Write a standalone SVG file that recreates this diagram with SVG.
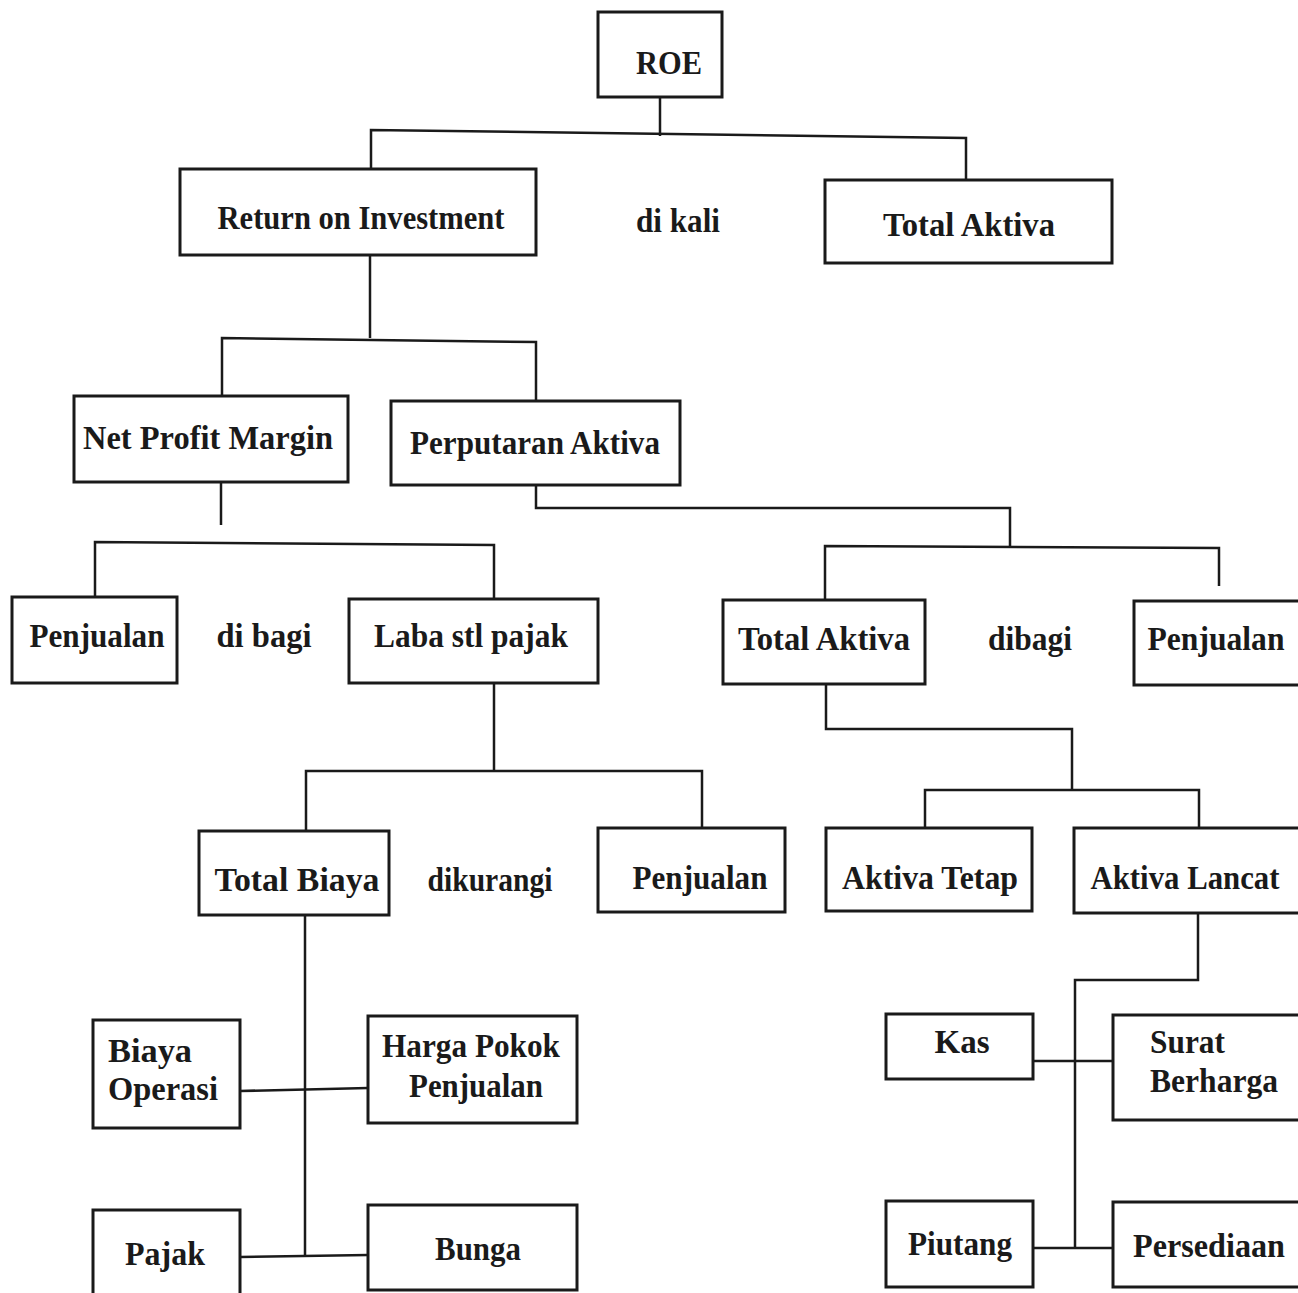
<svg xmlns="http://www.w3.org/2000/svg" width="1298" height="1293" viewBox="0 0 1298 1293">
<style>
.box{fill:#fff;stroke:#1a1a1a;stroke-width:3}
.ln{fill:none;stroke:#1a1a1a;stroke-width:2.5}
text{font-family:"Liberation Serif","Times New Roman",serif;font-size:33px;font-weight:bold;fill:#1a1a1a;text-anchor:middle}
.l{text-anchor:start}
</style>
<rect width="1298" height="1293" fill="#fff"/>
<g id="connectors">
<polyline class="ln" points="660,97 660,136"/>
<polyline class="ln" points="371,168 371,130 966,138 966,180"/>
<polyline class="ln" points="370,256 370,338"/>
<polyline class="ln" points="222,396 222,338 536,342 536,401"/>
<polyline class="ln" points="221,482 221,525"/>
<polyline class="ln" points="95,597 95,542 494,545 494,599"/>
<polyline class="ln" points="536,485 536,508 1010,508 1010,548"/>
<polyline class="ln" points="825,600 825,546 1219,548 1219,586"/>
<polyline class="ln" points="494,684 494,771"/>
<polyline class="ln" points="306,831 306,771 702,771 702,828"/>
<polyline class="ln" points="826,684 826,729 1072,729 1072,790"/>
<polyline class="ln" points="925,828 925,790 1199,790 1199,828"/>
<polyline class="ln" points="305,915 305,1257"/>
<polyline class="ln" points="240,1091 368,1088"/>
<polyline class="ln" points="240,1257 368,1255"/>
<polyline class="ln" points="1198,913 1198,980 1075,980 1075,1248"/>
<polyline class="ln" points="1033,1061 1113,1061"/>
<polyline class="ln" points="1033,1248 1113,1248"/>
</g>
<g id="n-roe"><rect class="box" x="598" y="12" width="124" height="85"/><text x="669" y="74" textLength="66" lengthAdjust="spacingAndGlyphs">ROE</text></g>
<g id="n-roi"><rect class="box" x="180" y="169" width="356" height="86"/><text x="361" y="229" textLength="287" lengthAdjust="spacingAndGlyphs">Return on Investment</text></g>
<g id="t-dikali"><text x="678" y="232" textLength="84" lengthAdjust="spacingAndGlyphs">di kali</text></g>
<g id="n-totalaktiva1"><rect class="box" x="825" y="180" width="287" height="83"/><text x="969" y="236" textLength="172" lengthAdjust="spacingAndGlyphs">Total Aktiva</text></g>
<g id="n-npm"><rect class="box" x="74" y="396" width="274" height="86"/><text x="208" y="449" textLength="250" lengthAdjust="spacingAndGlyphs">Net Profit Margin</text></g>
<g id="n-perputaran"><rect class="box" x="391" y="401" width="289" height="84"/><text x="535" y="454" textLength="250" lengthAdjust="spacingAndGlyphs">Perputaran Aktiva</text></g>
<g id="n-penjualan1"><rect class="box" x="12" y="597" width="165" height="86"/><text x="97" y="647" textLength="135" lengthAdjust="spacingAndGlyphs">Penjualan</text></g>
<g id="t-dibagi1"><text x="264" y="647" textLength="95" lengthAdjust="spacingAndGlyphs">di bagi</text></g>
<g id="n-laba"><rect class="box" x="349" y="599" width="249" height="84"/><text x="471" y="647" textLength="194" lengthAdjust="spacingAndGlyphs">Laba stl pajak</text></g>
<g id="n-totalaktiva2"><rect class="box" x="723" y="600" width="202" height="84"/><text x="824" y="650" textLength="172" lengthAdjust="spacingAndGlyphs">Total Aktiva</text></g>
<g id="t-dibagi2"><text x="1030" y="650" textLength="84" lengthAdjust="spacingAndGlyphs">dibagi</text></g>
<g id="n-penjualan2"><rect class="box" x="1134" y="601" width="170" height="84"/><text x="1216" y="650" textLength="137" lengthAdjust="spacingAndGlyphs">Penjualan</text></g>
<g id="n-totalbiaya"><rect class="box" x="199" y="831" width="190" height="84"/><text x="297" y="891" textLength="165" lengthAdjust="spacingAndGlyphs">Total Biaya</text></g>
<g id="t-dikurangi"><text x="490" y="891" textLength="125" lengthAdjust="spacingAndGlyphs">dikurangi</text></g>
<g id="n-penjualan3"><rect class="box" x="598" y="828" width="187" height="84"/><text x="700" y="889" textLength="135" lengthAdjust="spacingAndGlyphs">Penjualan</text></g>
<g id="n-aktivatetap"><rect class="box" x="826" y="828" width="206" height="83"/><text x="930" y="889" textLength="176" lengthAdjust="spacingAndGlyphs">Aktiva Tetap</text></g>
<g id="n-aktivalancat"><rect class="box" x="1074" y="828" width="230" height="85"/><text x="1185" y="889" textLength="189" lengthAdjust="spacingAndGlyphs">Aktiva Lancat</text></g>
<g id="n-biayaoperasi"><rect class="box" x="93" y="1020" width="147" height="108"/><text class="l" x="108" y="1062" textLength="84" lengthAdjust="spacingAndGlyphs">Biaya</text><text class="l" x="108" y="1100" textLength="110" lengthAdjust="spacingAndGlyphs">Operasi</text></g>
<g id="n-hpp"><rect class="box" x="368" y="1016" width="209" height="107"/><text x="471" y="1057" textLength="178" lengthAdjust="spacingAndGlyphs">Harga Pokok</text><text x="476" y="1097" textLength="134" lengthAdjust="spacingAndGlyphs">Penjualan</text></g>
<g id="n-pajak"><rect class="box" x="93" y="1210" width="147" height="95"/><text x="165" y="1265" textLength="80" lengthAdjust="spacingAndGlyphs">Pajak</text></g>
<g id="n-bunga"><rect class="box" x="368" y="1205" width="209" height="85"/><text x="478" y="1260" textLength="86" lengthAdjust="spacingAndGlyphs">Bunga</text></g>
<g id="n-kas"><rect class="box" x="886" y="1014" width="147" height="65"/><text x="962" y="1053" textLength="55" lengthAdjust="spacingAndGlyphs">Kas</text></g>
<g id="n-surat"><rect class="box" x="1113" y="1015" width="191" height="105"/><text class="l" x="1150" y="1053" textLength="75" lengthAdjust="spacingAndGlyphs">Surat</text><text class="l" x="1150" y="1092" textLength="128" lengthAdjust="spacingAndGlyphs">Berharga</text></g>
<g id="n-piutang"><rect class="box" x="886" y="1201" width="147" height="86"/><text x="960" y="1255" textLength="104" lengthAdjust="spacingAndGlyphs">Piutang</text></g>
<g id="n-persediaan"><rect class="box" x="1113" y="1202" width="191" height="85"/><text x="1209" y="1257" textLength="152" lengthAdjust="spacingAndGlyphs">Persediaan</text></g>
</svg>
